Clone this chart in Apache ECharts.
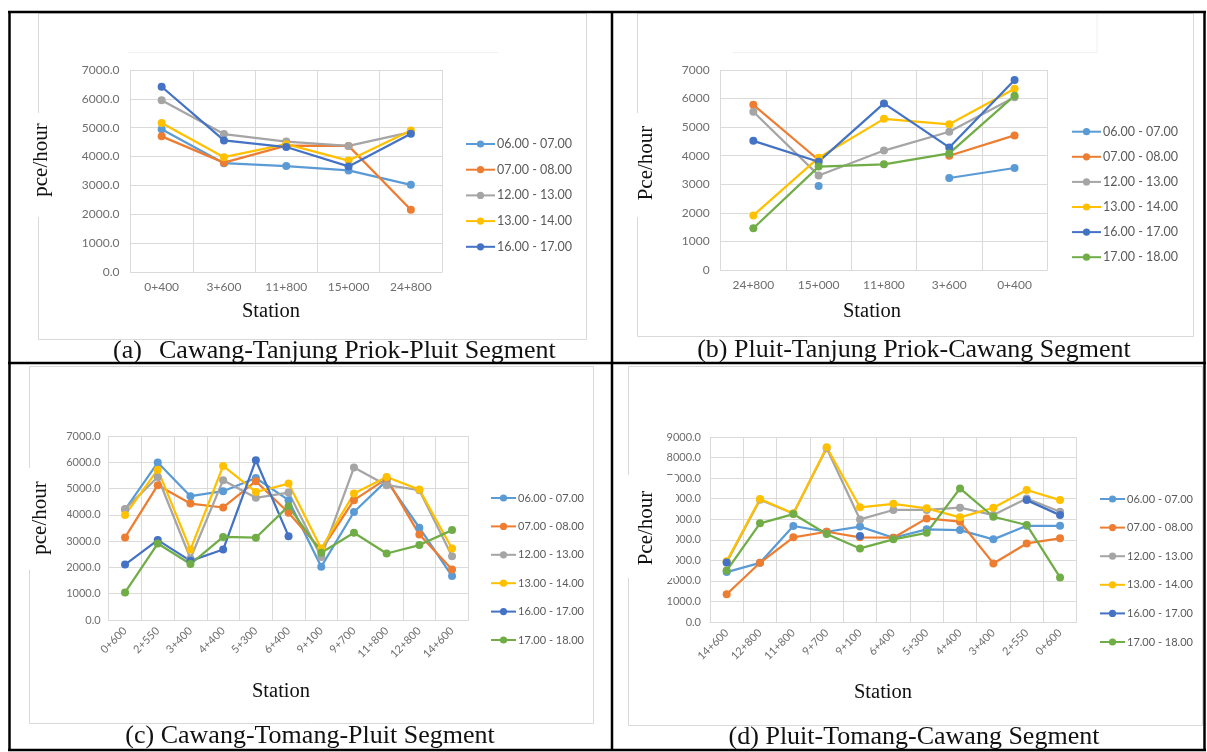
<!DOCTYPE html>
<html>
<head>
<meta charset="utf-8">
<script src="https://cdn.jsdelivr.net/npm/echarts@6/dist/echarts.min.js"></script>
<style>
  html, body { margin: 0; padding: 0; background: #ffffff; }
  #chart { width: 1207px; height: 752px; }
</style>
</head>
<body>
<div id="chart"></div>
<script>
// Hourly traffic volume (pce/hour) per station, four toll-road segments.
const periods = ['06.00 - 07.00', '07.00 - 08.00', '12.00 - 13.00', '13.00 - 14.00', '16.00 - 17.00', '17.00 - 18.00'];
const periodColors = ['#5B9BD5', '#ED7D31', '#A5A5A5', '#FFC000', '#4472C4', '#70AD47'];

// (a) Cawang-Tanjung Priok-Pluit
const stationsA = ['0+400', '3+600', '11+800', '15+000', '24+800'];
const a0607 = [4950, 3770, 3670, 3520, 3020];
const a0708 = [4700, 3790, 4380, 4370, 2160];
const a1213 = [5950, 4780, 4520, 4370, 4850];
const a1314 = [5160, 3980, 4430, 3860, 4900];
const a1617 = [6420, 4560, 4330, 3660, 4790];

// (b) Pluit-Tanjung Priok-Cawang
const stationsB = ['24+800', '15+000', '11+800', '3+600', '0+400'];
const b0607 = [null, 2940, null, 3220, 3570];
const b0708 = [5780, 3850, null, 4000, 4710];
const b1213 = [5540, 3310, 4180, 4840, 6050];
const b1314 = [1910, 3930, 5290, 5100, 6340];
const b1617 = [4520, 3790, 5830, 4290, 6650];
const b1718 = [1460, 3620, 3700, 4080, 6100];

// (c) Cawang-Tomang-Pluit
const stationsC = ['0+600', '2+550', '3+400', '4+400', '5+300', '6+400', '9+100', '9+700', '11+800', '12+800', '14+600'];
const c0607 = [4200, 5990, 4710, 4900, 5400, 4560, 2030, 4110, 5300, 3510, 1670];
const c0708 = [3140, 5130, 4430, 4280, 5280, 4080, 2660, 4560, 5380, 3250, 1920];
const c1213 = [4220, 5440, 2340, 5320, 4650, 4850, 2400, 5800, 5130, 4940, 2430];
const c1314 = [3990, 5720, 2680, 5860, 4870, 5190, 2720, 4810, 5440, 4960, 2720];
const c1617 = [2110, 3040, 2250, 2680, 6080, 3190, null, null, null, null, null];
const c1718 = [1050, 2910, 2130, 3160, 3130, 4330, 2560, 3320, 2530, 2850, 3420];

// (d) Pluit-Tomang-Cawang
const stationsD = ['14+600', '12+800', '11+800', '9+700', '9+100', '6+400', '5+300', '4+400', '3+400', '2+550', '0+600'];
const d0607 = [2430, 2880, 4670, 4390, 4640, 4100, 4510, 4470, 4020, 4680, 4680];
const d0708 = [1350, 2880, 4120, 4390, 4120, 4100, 5040, 4880, 2850, 3820, 4070];
const d1213 = [2900, 5950, 5280, 8450, 4990, 5450, 5450, 5560, 5200, 6010, 5360];
const d1314 = [2950, 5980, 5280, 8500, 5580, 5750, 5530, 5090, 5560, 6420, 5930];
const d1617 = [2900, null, null, null, 4180, null, null, null, null, 5930, 5200];
const d1718 = [2500, 4800, 5250, 4280, 3580, 4020, 4340, 6500, 5120, 4720, 2170];

const yTicksA = { max: 7000, interval: 1000, decimals: 1 };
const yTicksB = { max: 7000, interval: 1000, decimals: 0 };
const yTicksC = { max: 7000, interval: 1000, decimals: 1 };
const yTicksD = { max: 9000, interval: 1000, decimals: 1 };

const captions = [
  '(b) Pluit-Tanjung Priok-Cawang Segment',
  '(c) Cawang-Tomang-Pluit Segment',
  '(d) Pluit-Tomang-Cawang Segment'
];

const panels = [
  { cats: stationsA, data: [a0607, a0708, a1213, a1314, a1617], ticks: yTicksA,
    grid: { left: 130.5, top: 70, width: 311.5, height: 202 }, rotate: 0, tickFont: 12, yMargin: 11,
    legend: { left: 465, top: 137, gap: 11.7, font: 12.5, w: 29 } },
  { cats: stationsB, data: [b0607, b0708, b1213, b1314, b1617, b1718], ticks: yTicksB,
    grid: { left: 720.7, top: 70, width: 326.5, height: 200 }, rotate: 0, tickFont: 12, yMargin: 11,
    legend: { left: 1071, top: 124.7, gap: 11.1, font: 12.5, w: 29 } },
  { cats: stationsC, data: [c0607, c0708, c1213, c1314, c1617, c1718], ticks: yTicksC,
    grid: { left: 108.7, top: 436, width: 359.7, height: 184 }, rotate: 45, tickFont: 11, yMargin: 8,
    legend: { left: 490, top: 491, gap: 14.4, font: 11, w: 25 } },
  { cats: stationsD, data: [d0607, d0708, d1213, d1314, d1617, d1718], ticks: yTicksD,
    grid: { left: 710, top: 437, width: 366.7, height: 185 }, rotate: 45, tickFont: 11, yMargin: 9,
    legend: { left: 1099, top: 492, gap: 14.6, font: 11, w: 25 } }
];

const tickColor = '#6e6e6e';
const gridColor = '#dadada';
const sansFont = 'Lato, "Open Sans", sans-serif';
const serifFont = '"Liberation Serif", "DejaVu Serif", serif';

const option = {
  animation: false,
  backgroundColor: '#ffffff',
  grid: [], xAxis: [], yAxis: [], legend: [], series: [], graphic: []
};

panels.forEach((p, i) => {
  option.grid.push(Object.assign({ containLabel: false }, p.grid));
  option.xAxis.push({
    type: 'category', gridIndex: i, data: p.cats, boundaryGap: true,
    axisLine: { show: true, lineStyle: { color: gridColor, width: 1 } },
    axisTick: { show: false },
    splitLine: { show: true, lineStyle: { color: gridColor, width: 1 } },
    axisLabel: {
      color: tickColor, fontFamily: sansFont, fontSize: p.tickFont,
      rotate: p.rotate, margin: 9, interval: 0
    }
  });
  option.yAxis.push({
    type: 'value', gridIndex: i, min: 0, max: p.ticks.max, interval: p.ticks.interval,
    axisLine: { show: false }, axisTick: { show: false },
    splitLine: { show: true, lineStyle: { color: gridColor, width: 1 } },
    axisLabel: {
      color: tickColor, fontFamily: sansFont, fontSize: p.tickFont, margin: p.yMargin,
      formatter: v => v.toFixed(p.ticks.decimals)
    }
  });
  const names = periods.slice(0, p.data.length);
  option.legend.push({
    orient: 'vertical', left: p.legend.left, top: p.legend.top,
    itemGap: p.legend.gap, itemWidth: p.legend.w, itemHeight: 9,
    padding: 0, selectedMode: false, data: names,
    textStyle: { color: '#5a5a5a', fontFamily: sansFont, fontSize: p.legend.font, lineHeight: 14, padding: [0, 0, 0, -3] }
  });
  p.data.forEach((vals, k) => {
    option.series.push({
      type: 'line', name: periods[k], xAxisIndex: i, yAxisIndex: i, data: vals,
      color: periodColors[k], symbol: 'circle', symbolSize: 8, showSymbol: true,
      showAllSymbol: true, connectNulls: false,
      lineStyle: { width: 2.25, color: periodColors[k] },
      itemStyle: { color: periodColors[k] },
      emphasis: { disabled: true }
    });
  });
});

// Chart-area frames, table rules and all serif captions
const frames = [
  [38, 13, 548, 326], [637, 13, 556, 323], [29, 366, 564, 357], [628, 366, 574, 359]
];
frames.forEach(f => option.graphic.push({
  type: 'rect', z: -10, shape: { x: f[0] + 0.5, y: f[1] + 0.5, width: f[2], height: f[3] },
  style: { fill: 'none', stroke: '#d9d9d9', lineWidth: 1 }
}));
[[128, 52, 498, 52], [732, 52, 1097, 52], [1097, 13, 1097, 52]].forEach(l => option.graphic.push({
  type: 'line', z: -10, shape: { x1: l[0], y1: l[1] + 0.5, x2: l[2], y2: l[3] + 0.5 },
  style: { stroke: '#f1f1f1', lineWidth: 1 }
}));

// y-axis titles sit on white boxes that mask the frame and part of the tick labels
const yTitles = [
  { text: 'pce/hour', x: 41, y: 160, box: [28, 113, 26, 104] },
  { text: 'Pce/hour', x: 646, y: 163, box: [632, 113, 28, 104] },
  { text: 'pce/hour', x: 40, y: 518, box: [20, 468, 47, 102] },
  { text: 'Pce/hour', x: 646, y: 528, box: [626, 475, 50, 103] }
];
yTitles.forEach(t => {
  option.graphic.push({
    type: 'rect', z: 100, shape: { x: t.box[0], y: t.box[1], width: t.box[2], height: t.box[3] },
    style: { fill: '#ffffff' }
  });
  option.graphic.push({
    type: 'text', z: 101, x: t.x, y: t.y, rotation: Math.PI / 2,
    style: { text: t.text, font: '21px ' + serifFont, fill: '#111', textAlign: 'center', textVerticalAlign: 'middle' }
  });
});

[[271, 312], [872, 312], [281, 692], [883, 693]].forEach(pos => option.graphic.push({
  type: 'text', z: 101, x: pos[0], y: pos[1],
  style: { text: 'Station', font: '20.5px ' + serifFont, fill: '#111', textAlign: 'center', textVerticalAlign: 'middle' }
}));

option.graphic.push({
  type: 'text', z: 101, x: 113, y: 351,
  style: { text: '(a)', font: '26px ' + serifFont, fill: '#111', textAlign: 'left', textVerticalAlign: 'middle' }
});
option.graphic.push({
  type: 'text', z: 101, x: 159, y: 351,
  style: { text: 'Cawang-Tanjung Priok-Pluit Segment', font: '26px ' + serifFont, fill: '#111', textAlign: 'left', textVerticalAlign: 'middle' }
});
[[914, 350], [310, 736], [914, 737]].forEach((pos, k) => option.graphic.push({
  type: 'text', z: 101, x: pos[0], y: pos[1],
  style: { text: captions[k], font: '26px ' + serifFont, fill: '#111', textAlign: 'center', textVerticalAlign: 'middle' }
}));

const rules = [
  [8, 12, 1206, 12], [8, 750, 1206, 750], [9.5, 12, 9.5, 751], [1204.5, 12, 1204.5, 751],
  [612, 12, 612, 751], [8, 363, 1206, 363]
];
rules.forEach(r => option.graphic.push({
  type: 'line', z: 102, shape: { x1: r[0], y1: r[1], x2: r[2], y2: r[3] },
  style: { stroke: '#000', lineWidth: 2.5 }
}));

const chart = echarts.init(document.getElementById('chart'), null, { renderer: 'canvas' });
chart.setOption(option);
</script>
</body>
</html>
